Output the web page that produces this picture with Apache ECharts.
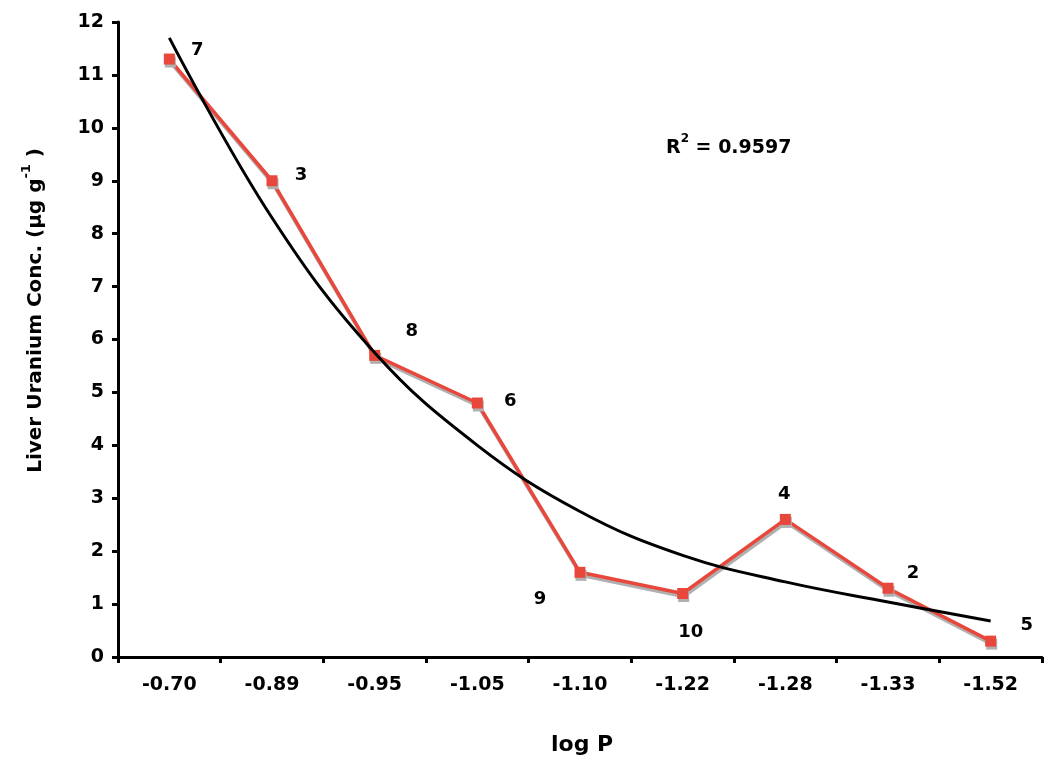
<!DOCTYPE html>
<html>
<head>
<meta charset="utf-8">
<script src="https://cdn.jsdelivr.net/npm/echarts@6/dist/echarts.min.js"></script>
<style>html,body{margin:0;padding:0;background:#fff}#c{width:1050px;height:764px}</style>
</head>
<body>
<div id="c"></div>
<script>
// ---- data ----
const categories = ["-0.70", "-0.89", "-0.95", "-1.05", "-1.10", "-1.22", "-1.28", "-1.33", "-1.52"];
const liverUranium = [11.3, 9.0, 5.7, 4.8, 1.6, 1.2, 2.6, 1.3, 0.3];
const pointLabels = ["7", "3", "8", "6", "9", "10", "4", "2", "5"];
const trendValues = [11.7, 8.3, 5.75, 4.0, 2.75, 1.92, 1.42, 1.04, 0.68];
const yTicks = [0, 12, 1]; // min, max, interval
const rSquaredText = "0.9597";

// ---- layout/style (not data) ----
const labelOffsets = [[28, -9], [29, -5], [37, -24], [33, -2], [-40, 27], [8, 39], [-1, -25], [25, -15], [36, -16]];
const FONT = "DejaVu Sans";
const RED = "#e8483c";

const chart = echarts.init(document.getElementById('c'), null, {renderer: 'canvas'});
const redData = liverUranium.map((v, i) => ({
  value: v,
  label: {show: true, position: 'inside', offset: labelOffsets[i], formatter: pointLabels[i]}
}));

chart.setOption({
  animation: false,
  backgroundColor: '#fff',
  grid: {left: 118, right: 8, top: 22, bottom: 107, containLabel: false},
  xAxis: {
    type: 'category',
    data: categories,
    boundaryGap: true,
    axisLine: {lineStyle: {color: '#000', width: 3}},
    axisTick: {show: true, length: 6, lineStyle: {color: '#000', width: 3}},
    axisLabel: {color: '#000', fontFamily: FONT, fontWeight: 'bold', fontSize: 19, margin: 19},
    splitLine: {show: false}
  },
  yAxis: {
    type: 'value',
    min: yTicks[0], max: yTicks[1], interval: yTicks[2],
    axisLine: {show: true, lineStyle: {color: '#000', width: 3}},
    axisTick: {show: true, length: 6, lineStyle: {color: '#000', width: 3}},
    axisLabel: {color: '#000', fontFamily: FONT, fontWeight: 'bold', fontSize: 19, margin: 14},
    splitLine: {show: false}
  },
  series: [
    {
      type: 'line',
      data: redData,
      symbol: 'rect',
      symbolSize: 11,
      z: 3,
      itemStyle: {color: RED, shadowColor: '#b0b0b0', shadowOffsetX: 1, shadowOffsetY: 3, shadowBlur: 0},
      lineStyle: {color: RED, width: 3.5, shadowColor: '#b0b0b0', shadowOffsetX: 1, shadowOffsetY: 3, shadowBlur: 0},
      label: {color: '#000', fontFamily: FONT, fontWeight: 'bold', fontSize: 18}
    },
    {
      type: 'line',
      data: trendValues,
      smooth: 0.4,
      symbol: 'none',
      z: 4,
      lineStyle: {color: '#000', width: 3}
    }
  ],
  graphic: [
    {
      type: 'text',
      left: 20, top: 148,
      rotation: Math.PI / 2,
      style: {
        text: '{a|Liver Uranium Conc. (µg g}{s|-1}{a| )}',
        rich: {
          a: {fontFamily: FONT, fontWeight: 'bold', fontSize: 20, fill: '#000', lineHeight: 26, verticalAlign: 'bottom'},
          s: {fontFamily: FONT, fontWeight: 'bold', fontSize: 13, fill: '#000', lineHeight: 26, verticalAlign: 'top'}
        }
      }
    },
    {
      type: 'text',
      left: 551, top: 734,
      style: {text: 'log P', fontFamily: FONT, fontWeight: 'bold', fontSize: 22, fill: '#000'}
    },
    {
      type: 'text',
      left: 666, top: 133,
      style: {
        text: '{a|R}{s|2}{a| = ' + rSquaredText + '}',
        rich: {
          a: {fontFamily: FONT, fontWeight: 'bold', fontSize: 19, fill: '#000', lineHeight: 25, verticalAlign: 'bottom'},
          s: {fontFamily: FONT, fontWeight: 'bold', fontSize: 12, fill: '#000', lineHeight: 25, verticalAlign: 'top'}
        }
      }
    }
  ]
});
</script>
</body>
</html>
